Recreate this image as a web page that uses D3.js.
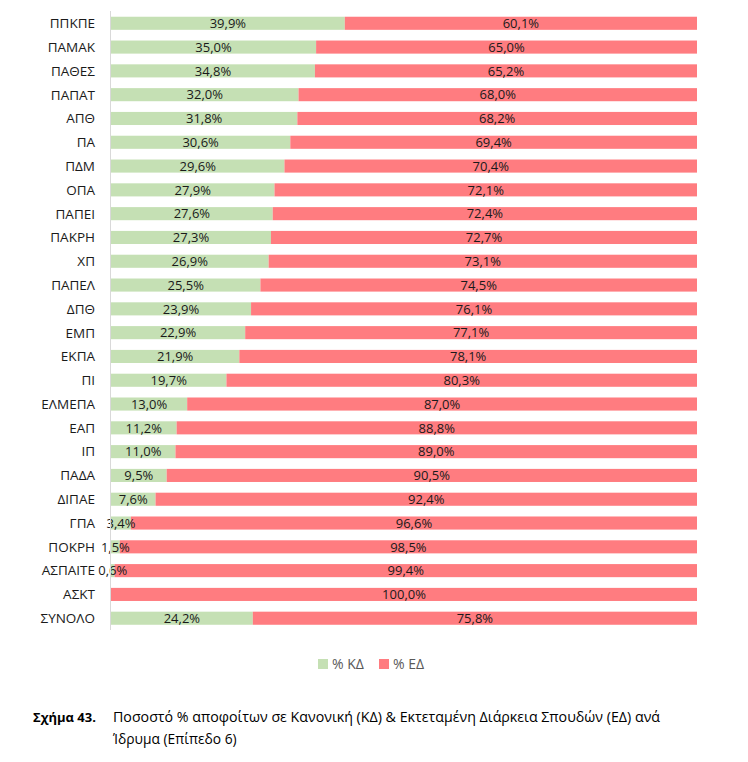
<!DOCTYPE html>
<html>
<head>
<meta charset="utf-8">
<script src="https://cdn.jsdelivr.net/npm/d3@7"></script>
<style>
  body { margin: 0; background: #fff; }
  svg text { font-family: "Open Sans", "Noto Sans", sans-serif; }
</style>
</head>
<body>
<svg id="chart" width="748" height="762"></svg>
<script>
// institutions, top to bottom
const categories = ["ΠΠΚΠΕ", "ΠΑΜΑΚ", "ΠΑΘΕΣ", "ΠΑΠΑΤ", "ΑΠΘ", "ΠΑ", "ΠΔΜ", "ΟΠΑ", "ΠΑΠΕΙ", "ΠΑΚΡΗ",
  "ΧΠ", "ΠΑΠΕΛ", "ΔΠΘ", "ΕΜΠ", "ΕΚΠΑ", "ΠΙ", "ΕΛΜΕΠΑ", "ΕΑΠ", "ΙΠ", "ΠΑΔΑ", "ΔΙΠΑΕ", "ΓΠΑ",
  "ΠΟΚΡΗ", "ΑΣΠΑΙΤΕ", "ΑΣΚΤ", "ΣΥΝΟΛΟ"];
// % ΚΔ
const kd = [39.9, 35.0, 34.8, 32.0, 31.8, 30.6, 29.6, 27.9, 27.6, 27.3, 26.9, 25.5, 23.9, 22.9, 21.9,
  19.7, 13.0, 11.2, 11.0, 9.5, 7.6, 3.4, 1.5, 0.6, 0.0, 24.2];
// % ΕΔ
const ed = [60.1, 65.0, 65.2, 68.0, 68.2, 69.4, 70.4, 72.1, 72.4, 72.7, 73.1, 74.5, 76.1, 77.1, 78.1,
  80.3, 87.0, 88.8, 89.0, 90.5, 92.4, 96.6, 98.5, 99.4, 100.0, 75.8];
const seriesNames = ["% ΚΔ", "% ΕΔ"];
const colors = ["#c5e0b4", "#ff7c80"];

const svg = d3.select("#chart");
const x = d3.scaleLinear().domain([0, 100]).range([111, 697]);
const y = d3.scaleBand().domain(categories).range([11.5, 630]).paddingInner(0.45).paddingOuter(0.22);

const fmt = v => v.toFixed(1).replace(".", ",") + "%";

const rows = categories.map((c, i) => ({ c, kd: kd[i], ed: ed[i] }));

// segments
const g = svg.append("g");
rows.forEach(r => {
  const segs = [
    { s: 0, v: r.kd, x0: 0, x1: r.kd },
    { s: 1, v: r.ed, x0: r.kd, x1: r.kd + r.ed }
  ];
  segs.forEach(d => {
    if (d.v <= 0) return;
    g.append("rect")
      .attr("x", x(d.x0))
      .attr("y", y(r.c))
      .attr("width", x(d.x1) - x(d.x0))
      .attr("height", y.bandwidth())
      .attr("fill", colors[d.s]);
  });
  segs.forEach(d => {
    if (d.v <= 0) return;
    g.append("text")
      .attr("x", (x(d.x0) + x(d.x1)) / 2)
      .attr("y", y(r.c) + y.bandwidth() / 2)
      .attr("dy", "0.36em")
      .attr("text-anchor", "middle")
      .attr("font-size", 13)
      .attr("fill", "#1a1a1a")
      .text(fmt(d.v));
  });
});

// category axis
svg.append("line")
  .attr("x1", 110.5).attr("x2", 110.5)
  .attr("y1", 11).attr("y2", 630)
  .attr("stroke", "#d9d9d9");

svg.append("g").selectAll("text").data(categories).join("text")
  .attr("x", 95)
  .attr("y", d => y(d) + y.bandwidth() / 2)
  .attr("dy", "0.36em")
  .attr("text-anchor", "end")
  .attr("font-size", 13.5)
  .attr("fill", "#1a1a1a")
  .text(d => d);

// legend
const legend = svg.append("g").attr("transform", "translate(318,664)");
const lx = [0, 61];
seriesNames.forEach((n, i) => {
  legend.append("rect").attr("x", lx[i]).attr("y", -5).attr("width", 10).attr("height", 10).attr("fill", colors[i]);
  legend.append("text").attr("x", lx[i] + 14).attr("y", 0).attr("dy", "0.36em")
    .attr("font-size", 14).attr("fill", "#595959").text(n);
});

// caption
const cap = svg.append("g");
cap.append("text").attr("x", 33).attr("y", 722).attr("font-size", 13).attr("font-weight", "bold")
  .attr("fill", "#000").text("Σχήμα 43.");
cap.append("text").attr("x", 113).attr("y", 722).attr("font-size", 13.8).attr("fill", "#000")
  .attr("textLength", 547).attr("lengthAdjust", "spacingAndGlyphs")
  .text("Ποσοστό % αποφοίτων σε Κανονική (ΚΔ) & Εκτεταμένη Διάρκεια Σπουδών (ΕΔ) ανά");
cap.append("text").attr("x", 113).attr("y", 744).attr("font-size", 13.8).attr("fill", "#000")
  .text("Ίδρυμα (Επίπεδο 6)");
</script>
</body>
</html>
